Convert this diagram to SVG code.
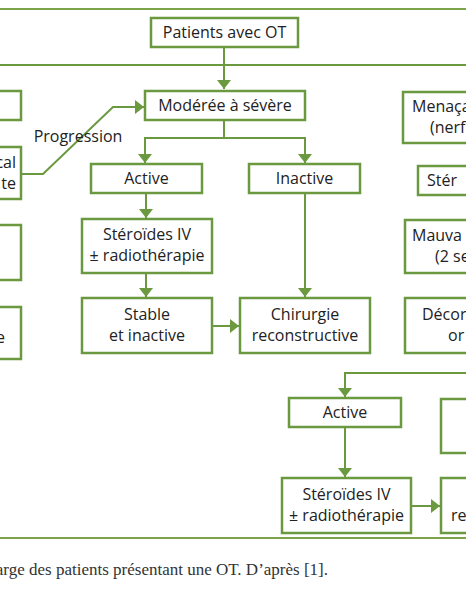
<svg xmlns="http://www.w3.org/2000/svg" width="466" height="600" viewBox="0 0 466 600">
<style>
.box{fill:#fff;stroke:#6b9940;stroke-width:2.5}
.t{font-family:"Open Sans","Liberation Sans",sans-serif;font-size:16px;fill:#222;text-anchor:middle}
.ts{font-family:"Open Sans","Liberation Sans",sans-serif;font-size:16px;fill:#222}
.te{font-family:"Open Sans","Liberation Sans",sans-serif;font-size:16px;fill:#222;text-anchor:end}
.c{fill:none;stroke:#6b9940;stroke-width:2}
.frame{stroke:#7aa34a;stroke-width:2}
.cap{font-family:"Liberation Serif","DejaVu Serif",serif;font-size:17px;fill:#333;text-anchor:end}
</style>
<defs>
<marker id="ah" viewBox="0 -7 9 14" markerWidth="9" markerHeight="14" refX="9" refY="0" orient="auto" markerUnits="userSpaceOnUse">
<path d="M0,-7 L9,0 L0,7 z" fill="#6b9940"/>
</marker>
</defs>
<rect width="466" height="600" fill="#fff"/>
<line class="frame" x1="0" y1="9" x2="466" y2="9"/>
<line class="frame" x1="0" y1="538" x2="466" y2="538"/>
<g id="connectors">
<line class="c" x1="0" y1="65" x2="466" y2="65"/>
<path class="c" d="M224,47 V89" marker-end="url(#ah)"/>
<path class="c" d="M224,120 V138 H145 V163" marker-end="url(#ah)"/>
<path class="c" d="M224,138 H305 V163" marker-end="url(#ah)"/>
<path class="c" d="M22,174 H43 L113,107 H144" marker-end="url(#ah)"/>
<path class="c" d="M146,193 V218" marker-end="url(#ah)"/>
<path class="c" d="M146,273 V297" marker-end="url(#ah)"/>
<path class="c" d="M212,326 H239" marker-end="url(#ah)"/>
<path class="c" d="M305,193 V297" marker-end="url(#ah)"/>
<path class="c" d="M466,373 H345 V397" marker-end="url(#ah)"/>
<path class="c" d="M345,427 V477" marker-end="url(#ah)"/>
<path class="c" d="M411,506 H440" marker-end="url(#ah)"/>
</g>
<text class="t" x="78" y="142">Progression</text>
<g id="patients"><rect class="box" x="151" y="18" width="147" height="29"/><text class="t" x="224.5" y="38">Patients avec OT</text></g>
<g id="moderee"><rect class="box" x="145" y="91" width="160" height="29"/><text class="t" x="225" y="111">Modérée à sévère</text></g>
<g id="active1"><rect class="box" x="91" y="164" width="111" height="29"/><text class="t" x="146.5" y="184">Active</text></g>
<g id="inactive"><rect class="box" x="249" y="164" width="111" height="29"/><text class="t" x="304.5" y="184">Inactive</text></g>
<g id="steroides1"><rect class="box" x="82" y="219" width="130" height="54"/><text class="t" x="147" y="240">Stéroïdes IV</text><text class="t" x="147" y="261">± radiothérapie</text></g>
<g id="stable"><rect class="box" x="82" y="298" width="130" height="55"/><text class="t" x="147" y="320">Stable</text><text class="t" x="147" y="341">et inactive</text></g>
<g id="chirurgie"><rect class="box" x="240" y="298" width="130" height="55"/><text class="t" x="305" y="320">Chirurgie</text><text class="t" x="305" y="341">reconstructive</text></g>
<g id="left1"><rect class="box" x="-20" y="91" width="41" height="29"/></g>
<g id="left2"><rect class="box" x="-20" y="147" width="41" height="52"/><text class="te" x="16" y="168">cal</text><text class="te" x="16" y="189">te</text></g>
<g id="left3"><rect class="box" x="-20" y="225" width="41" height="55"/></g>
<g id="left4"><rect class="box" x="-20" y="307" width="41" height="52"/><text class="te" x="5" y="343">e</text></g>
<g id="right1"><rect class="box" x="403" y="92" width="80" height="51"/><text class="ts" x="412" y="112">Menaça</text><text class="ts" x="430" y="133">(nerf</text></g>
<g id="right2"><rect class="box" x="418" y="166" width="60" height="29"/><text class="ts" x="427" y="186">Stér</text></g>
<g id="right3"><rect class="box" x="405" y="220" width="80" height="53"/><text class="ts" x="412" y="241">Mauva</text><text class="ts" x="435" y="262">(2 se</text></g>
<g id="right4"><rect class="box" x="405" y="298" width="80" height="55"/><text class="ts" x="422" y="320">Décor</text><text class="ts" x="448" y="341">or</text></g>
<g id="active2"><rect class="box" x="289" y="398" width="112" height="29"/><text class="t" x="345" y="418">Active</text></g>
<g id="steroides2"><rect class="box" x="282" y="478" width="129" height="55"/><text class="t" x="346.5" y="500">Stéroïdes IV</text><text class="t" x="346.5" y="521">± radiothérapie</text></g>
<g id="right5"><rect class="box" x="441" y="399" width="40" height="54"/></g>
<g id="right6"><rect class="box" x="441" y="478" width="40" height="55"/><text class="ts" x="451" y="521">re</text></g>
<text class="cap" x="328" y="575">arge des patients présentant une OT. D’après [1].</text>
</svg>
